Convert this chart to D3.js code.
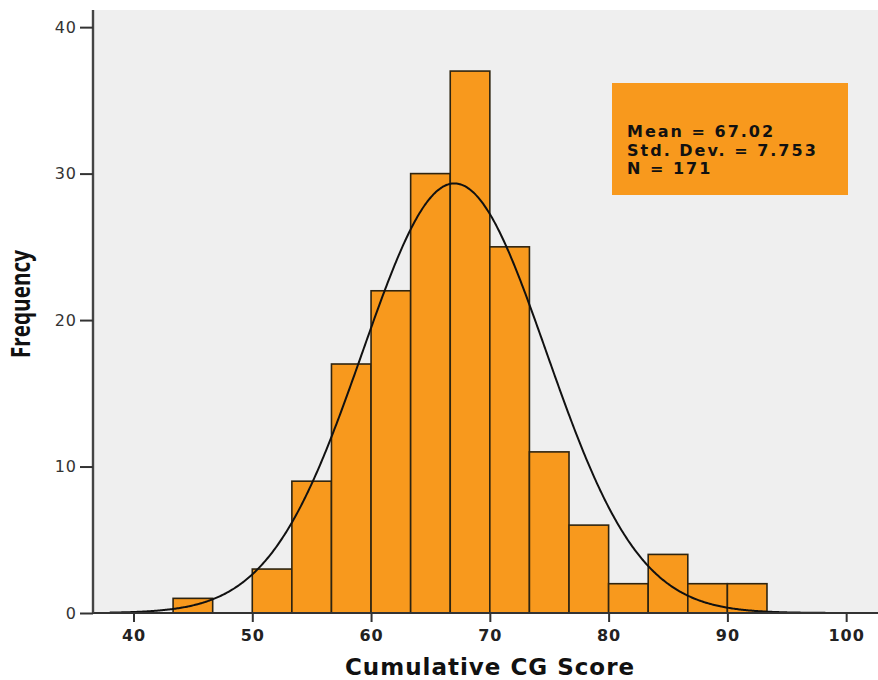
<!DOCTYPE html>
<html>
<head>
<meta charset="utf-8">
<script src="https://cdn.jsdelivr.net/npm/d3@7"></script>
<style>
  html, body { margin: 0; padding: 0; background: #ffffff; }
  svg { display: block; }
</style>
</head>
<body>
<div id="chart"></div>
<script>
// Histogram bins: lower edge of each bin and its count
const binLower = [40, 43.333, 46.667, 50, 53.333, 56.667, 60, 63.333, 66.667, 70, 73.333, 76.667, 80, 83.333, 86.667, 90];
const frequency = [0, 1, 0, 3, 9, 17, 22, 30, 37, 25, 11, 6, 2, 4, 2, 2];
const binWidth = 10 / 3;

// Summary statistics shown in the box and used for the normal curve
const statLabels = ["Mean", "Std. Dev.", "N"];
const statValues = ["67.02", "7.753", "171"];
const mean = 67.02, stdDev = 7.753, n = 171;

const xTicks = [40, 50, 60, 70, 80, 90, 100];
const yTicks = [0, 10, 20, 30, 40];

const W = 878, H = 680;
const plot = { left: 93, right: 878, top: 10, bottom: 613 };

const svg = d3.select("#chart").append("svg")
  .attr("width", W).attr("height", H);

const x = d3.scaleLinear().domain([36.59, 102.68]).range([plot.left, plot.right]);
const y = d3.scaleLinear().domain([0, 41.17]).range([plot.bottom, plot.top]);

// plot background
svg.append("rect")
  .attr("x", plot.left).attr("y", plot.top)
  .attr("width", plot.right - plot.left).attr("height", plot.bottom - plot.top)
  .attr("fill", "#efefef");

// bars
const bins = binLower.map((lo, i) => ({ lo, hi: lo + binWidth, count: frequency[i] }))
  .filter(d => d.count > 0);

svg.append("g").selectAll("rect").data(bins).join("rect")
  .attr("x", d => x(d.lo))
  .attr("y", d => y(d.count))
  .attr("width", d => x(d.hi) - x(d.lo))
  .attr("height", d => y(0) - y(d.count))
  .attr("fill", "#f8991d")
  .attr("stroke", "#2e2410")
  .attr("stroke-width", 1.6);

// fitted normal curve scaled to counts
const pdf = v => Math.exp(-0.5 * ((v - mean) / stdDev) ** 2) / (stdDev * Math.sqrt(2 * Math.PI));
const curvePts = d3.range(38, x.domain()[1] + 0.01, 0.1)
  .map(v => [v, n * binWidth * pdf(v)]);

svg.append("path")
  .datum(curvePts)
  .attr("fill", "none")
  .attr("stroke", "#111")
  .attr("stroke-width", 2)
  .attr("d", d3.line().x(d => x(d[0])).y(d => y(d[1])).curve(d3.curveBasis));

// x axis
const xAxis = svg.append("g")
  .attr("transform", `translate(0,${plot.bottom})`)
  .call(d3.axisBottom(x).tickValues(xTicks).tickSize(9).tickPadding(8).tickFormat(d3.format("d")));
xAxis.select(".domain").attr("stroke", "#333").attr("stroke-width", 2.2)
  .attr("d", `M${plot.left},0H${plot.right}`);
xAxis.selectAll(".tick line").attr("stroke", "#333").attr("stroke-width", 2);
xAxis.selectAll(".tick text")
  .attr("font-family", "DejaVu Sans, sans-serif")
  .attr("font-size", 16).attr("font-weight", "bold")
  .attr("letter-spacing", 1)
  .attr("fill", "#222");

// y axis
const yAxis = svg.append("g")
  .attr("transform", `translate(${plot.left},0)`)
  .call(d3.axisLeft(y).tickValues(yTicks).tickSize(13).tickPadding(3).tickFormat(d3.format("d")));
yAxis.select(".domain").attr("stroke", "#444").attr("stroke-width", 2.4)
  .attr("d", `M0,${plot.top}V${plot.bottom}`);
yAxis.selectAll(".tick line").attr("stroke", "#333").attr("stroke-width", 2);
yAxis.selectAll(".tick text")
  .attr("font-family", "DejaVu Sans, sans-serif")
  .attr("font-size", 16)
  .attr("letter-spacing", 1)
  .attr("fill", "#333");

// axis titles
svg.append("text")
  .attr("x", 490).attr("y", 675)
  .attr("text-anchor", "middle")
  .attr("font-family", "DejaVu Sans, sans-serif")
  .attr("font-size", 23).attr("font-weight", "bold")
  .attr("letter-spacing", 1)
  .attr("fill", "#111")
  .text("Cumulative CG Score");

svg.append("text")
  .attr("transform", "translate(30,304) rotate(-90)")
  .attr("text-anchor", "middle")
  .attr("font-family", "Open Sans, sans-serif")
  .attr("font-size", 26).attr("font-weight", "bold")
  .attr("textLength", 108).attr("lengthAdjust", "spacingAndGlyphs")
  .attr("fill", "#111")
  .text("Frequency");

// statistics box
svg.append("rect")
  .attr("x", 612).attr("y", 83).attr("width", 236).attr("height", 112)
  .attr("fill", "#f8991d");

svg.append("g").selectAll("text").data(statLabels).join("text")
  .attr("x", 627)
  .attr("y", (d, i) => 137 + i * 18.7)
  .attr("font-family", "DejaVu Sans, sans-serif")
  .attr("font-size", 16).attr("font-weight", "bold")
  .attr("letter-spacing", 2)
  .attr("fill", "#111")
  .text((d, i) => `${d} = ${statValues[i]}`);
</script>
</body>
</html>
